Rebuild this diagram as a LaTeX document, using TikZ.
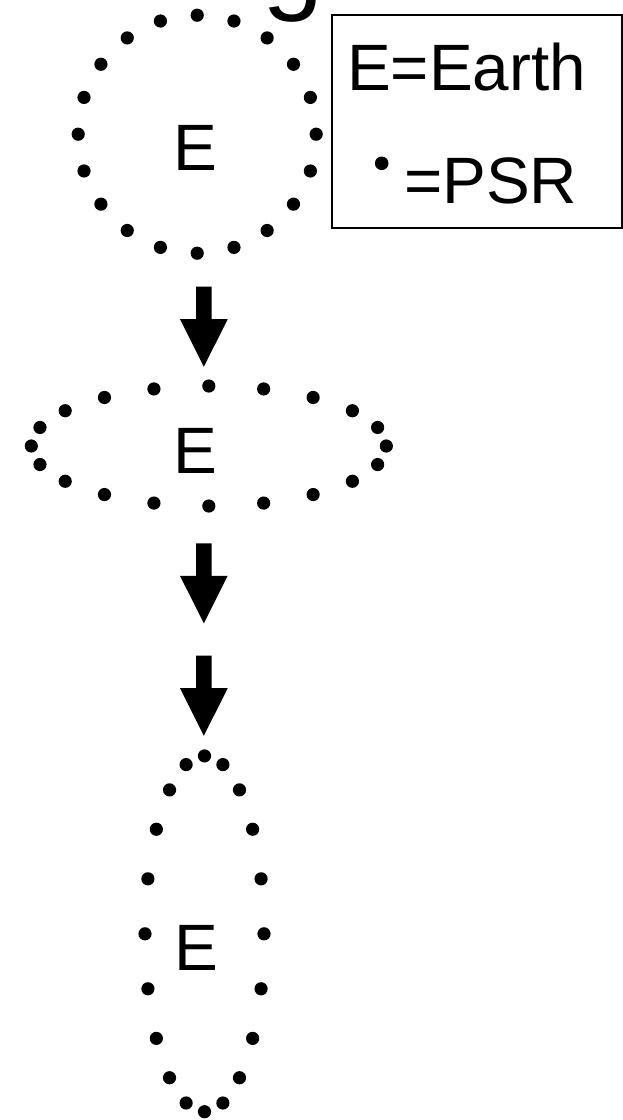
\documentclass[tikz,border=0pt]{standalone}
\usepackage{fontspec}
\setmainfont{Liberation Sans}
\begin{document}
\begin{tikzpicture}[x=1pt,y=-1pt,
  lbl/.style={font=\fontsize{65.6}{70}\selectfont, inner sep=0pt, anchor=base},
  psr/.style={fill=black},
  blockarrow/.pic={\fill (-7.85,0) -- (7.85,0) -- (7.85,32.5) -- (23.85,32.5) -- (0,80) -- (-23.85,32.5) -- (-7.85,32.5) -- cycle;}
]
\useasboundingbox (0,0) rectangle (623,1120);
\clip (0,0) rectangle (623,1120);
\fill[white] (0,0) rectangle (623,1120);

% partial title glyph at the top edge
\node[font=\fontsize{110}{120}\selectfont, inner sep=0pt, anchor=base west] (title) at (262,-1) {g};

% stage 1: circle
\foreach \t in {0,18,...,342}
  \fill[psr] ({197.2+119*sin(\t)},{134.2-119*cos(\t)}) circle[radius=6.6];
\node[lbl] (e1) at (195.6,170) {E};

% legend
\draw[line width=2.2pt] (331.7,15) rectangle (621.7,228.3);
\node[lbl] (leg1) at (466.5,90) {E=Earth};
\node[lbl] (leg2) at (490.6,203.3) {=PSR};
\fill[psr] (381.7,163.3) circle[radius=6.8];

% arrows
\pic at (203.85,286.7) {blockarrow};
\pic at (203.85,543.3) {blockarrow};
\pic at (203.85,655.7) {blockarrow};

% stage 2: flat ellipse
\foreach \t in {0,18,...,342}
  \fill[psr] ({208.8+177.5*sin(\t)},{446-60*cos(\t)}) circle[radius=6.6];
\node[lbl] (e2) at (195.6,473.3) {E};

% stage 3: tall ellipse
\foreach \t in {0,18,...,342}
  \fill[psr] ({204.5+59.5*sin(\t)},{933.8-177.9*cos(\t)}) circle[radius=6.6];
\node[lbl] (e3) at (196.3,970) {E};
\end{tikzpicture}
\end{document}
